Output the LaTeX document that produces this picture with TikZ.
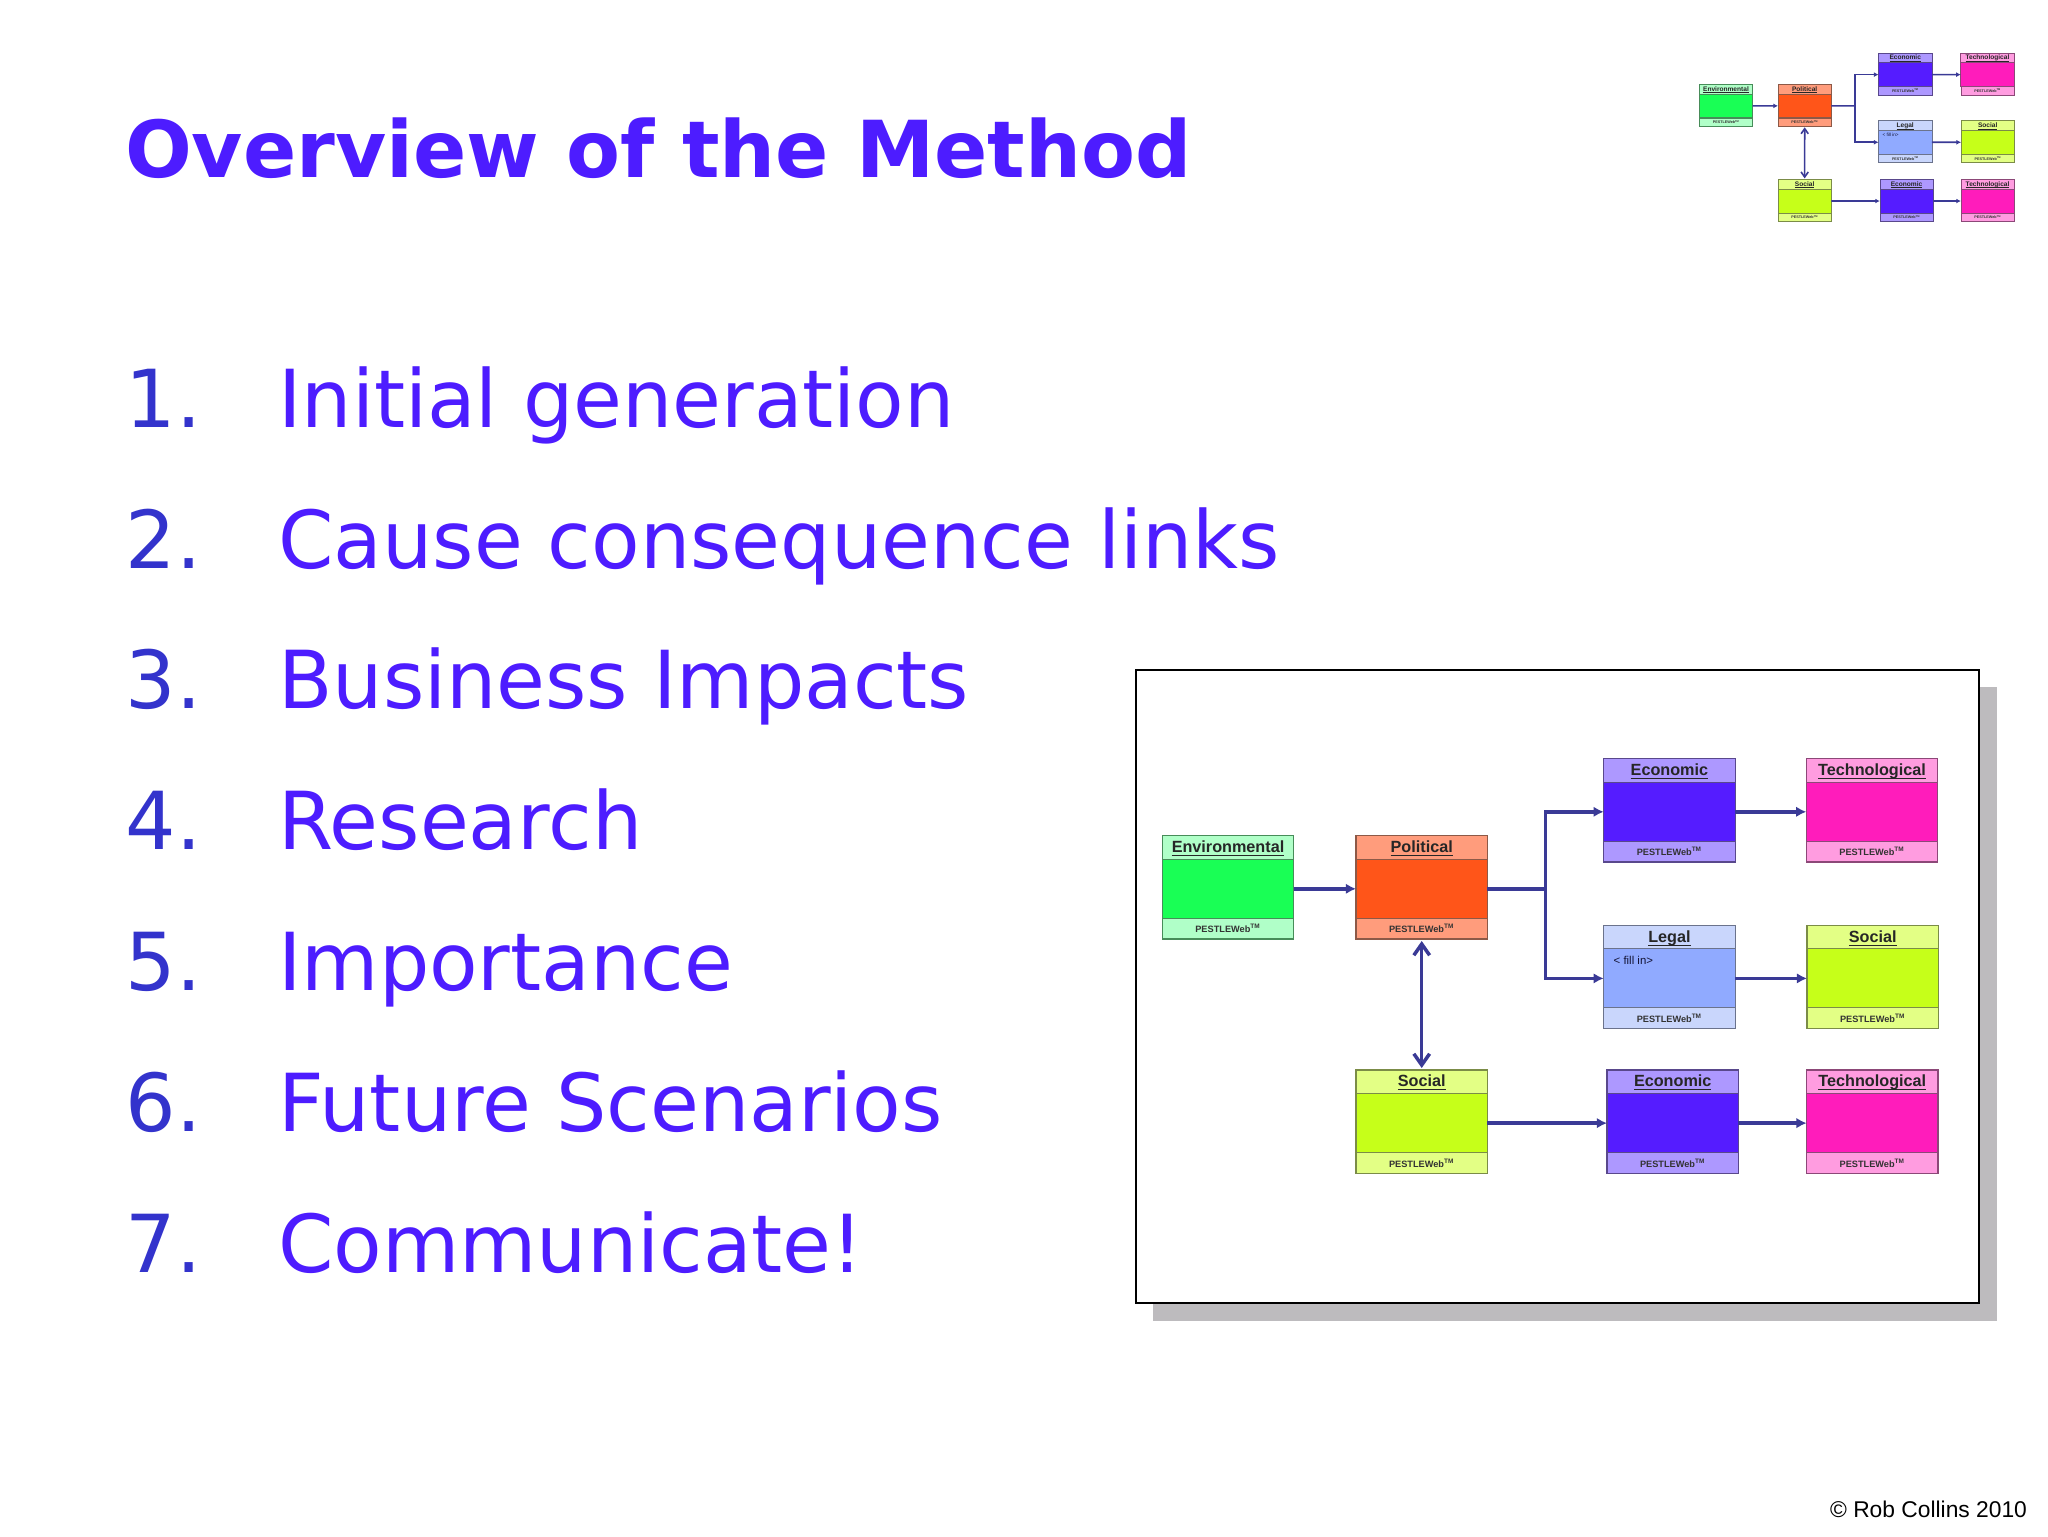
\documentclass[tikz,border=0pt]{standalone}
\usepackage{xcolor}
\usepackage{fontspec}
\setmainfont{Liberation Sans}
\newfontfamily\slideFont[FakeStretch=0.992]{DejaVu Sans}
\newfontfamily\headFont{DejaVu Sans}
\usetikzlibrary{positioning,arrows.meta,calc}
\definecolor{slideBlue}{HTML}{4D1CFF}
\definecolor{numBlue}{HTML}{3333CC}
\definecolor{linkBlue}{HTML}{3A3A96}
\definecolor{shadowGrey}{HTML}{BDBBBE}
\definecolor{envBody}{HTML}{19FF55}
\definecolor{envLight}{HTML}{B0FFC8}
\definecolor{polBody}{HTML}{FF5519}
\definecolor{polLight}{HTML}{FF9C7C}
\definecolor{ecoBody}{HTML}{551CFF}
\definecolor{ecoLight}{HTML}{AD98FF}
\definecolor{tecBody}{HTML}{FF1CBB}
\definecolor{tecLight}{HTML}{FF9CE0}
\definecolor{legBody}{HTML}{90AAFF}
\definecolor{legLight}{HTML}{C9D6FC}
\definecolor{socBody}{HTML}{C6FF19}
\definecolor{socLight}{HTML}{E3FF85}
\tikzset{
  slideTitle/.style={
    anchor=base west,
    inner sep=0pt,
    text=slideBlue,
    font=\headFont\bfseries\fontsize{39.3}{44}\selectfont
  },
  listNum/.style={
    anchor=base west,
    inner sep=0pt,
    text=numBlue,
    font=\slideFont\fontsize{40}{44}\selectfont
  },
  listItem/.style={
    inner sep=0pt,
    text=slideBlue,
    font=\slideFont\fontsize{40}{44}\selectfont
  },
  nextNum/.style={
    below=70.4pt of #1.base west,
    anchor=base west
  },
  itemOf/.style={
    right=76.2pt of #1.base west,
    anchor=base west
  },
  boxPart/.style={
    rectangle,
    inner sep=0pt,
    outer sep=0pt,
    line width=\boxRule,
    minimum width=65.7pt,
    align=center
  },
  boxTitle/.style={
    boxPart,
    draw=#1Body!40!black!75,
    fill=#1Light,
    minimum height=11.8pt,
    text height=6.2pt,
    text depth=1.1pt,
    text=black!85,
    font=\bfseries\fontsize{8.1}{9}\selectfont
  },
  boxBody/.style={
    boxPart,
    draw=#1Body!40!black!75,
    fill=#1Body,
    minimum height=29.5pt
  },
  boxFoot/.style={
    boxPart,
    draw=#1Body!40!black!75,
    fill=#1Light,
    minimum height=10.35pt,
    text=black!80,
    font=\bfseries\fontsize{4.6}{5}\selectfont
  },
  fillNote/.style={
    inner sep=0pt,
    anchor=north west,
    text=black!65!linkBlue,
    font=\fontsize{5.7}{6}\selectfont
  },
  linkLine/.style={
    draw=linkBlue,
    line width=\linkRule,
    -{Latex[length=0pt 2.9,width=0pt 3]}
  },
  bothLine/.style={
    draw=linkBlue,
    line width=\linkRule,
    {Straight Barb[length=0pt 3.2,width=0pt 4.5]}-{Straight Barb[length=0pt 3.2,width=0pt 4.5]},
    shorten <=\linkGap,
    shorten >=\linkGap
  }
}
\newcommand{\boxRule}{0.55pt}
\newcommand{\linkRule}{1.75pt}
\newcommand{\linkGap}{1pt}
\newcommand{\pestleBox}[4]{
  \node[boxTitle=#4, anchor=north west] (#1T) at (#2) {\underline{\smash{#3}}};
  \node[boxBody=#4, below=0pt of #1T] (#1B) {};
  \node[boxFoot=#4, below=0pt of #1B] (#1F) {PESTLEWeb\textsuperscript{TM}};
}
\newcommand{\pestleWeb}[1]{
  \pestleBox{#1env}{1162.3,835.7}{Environmental}{env}
  \pestleBox{#1pol}{1356,835.7}{Political}{pol}
  \pestleBox{#1eco}{1603.7,758.7}{Economic}{eco}
  \pestleBox{#1tec}{1806.3,758.7}{Technological}{tec}
  \pestleBox{#1leg}{1603.7,925.3}{Legal}{leg}
  \pestleBox{#1soc}{1807,925.3}{Social}{soc}
  \pestleBox{#1sob}{1356,1070}{Social}{soc}
  \pestleBox{#1ecb}{1607,1070}{Economic}{eco}
  \pestleBox{#1teb}{1806.6,1070}{Technological}{tec}
  \node[fillNote, below right=3.6pt and 4.8pt of #1legB.north west, anchor=north west] (#1note) {< fill in>};
  \coordinate (#1fork) at ($(#1polB.east)+(29pt,0)$);

  \draw[linkLine] (#1envB) -- (#1polB);
  \draw[line width=\linkRule, draw=linkBlue] (#1polB.east) -- (#1fork);
  \draw[linkLine] (#1fork) |- (#1ecoB.west);
  \draw[linkLine] (#1fork) |- (#1legB.west);
  \draw[linkLine] (#1ecoB) -- (#1tecB);
  \draw[linkLine] (#1legB) -- (#1socB);
  \draw[bothLine] (#1polF) -- (#1sobT);
  \draw[linkLine] (#1sobB) -- (#1ecbB);
  \draw[linkLine] (#1ecbB) -- (#1tebB);
}
\begin{document}
\begin{tikzpicture}[x=0.5pt,y=-0.5pt]
  \useasboundingbox (0,0) rectangle (2048,1536);

  \node[slideTitle] (title) at (124.7,177.3) {Overview of the Method};

  \node[listNum] (num1) at (125.5,427.3) {1.};
  \node[listItem, itemOf=num1] (item1) {Initial generation};
  \node[listNum, nextNum=num1] (num2) {2.};
  \node[listItem, itemOf=num2] (item2) {Cause consequence links};
  \node[listNum, nextNum=num2] (num3) {3.};
  \node[listItem, itemOf=num3] (item3) {Business Impacts};
  \node[listNum, nextNum=num3] (num4) {4.};
  \node[listItem, itemOf=num4] (item4) {Research};
  \node[listNum, nextNum=num4] (num5) {5.};
  \node[listItem, itemOf=num5] (item5) {Importance};
  \node[listNum, nextNum=num5] (num6) {6.};
  \node[listItem, itemOf=num6] (item6) {Future Scenarios};
  \node[listNum, nextNum=num6] (num7) {7.};
  \node[listItem, itemOf=num7] (item7) {Communicate!};

  % framed picture with its shadow
  \fill[shadowGrey] (1153,687) rectangle (1996.7,1320.7);
  \draw[line width=1pt, draw=black, fill=white] (1135.7,670) rectangle (1979,1303);
  \pestleWeb{m}

  % small copy in the corner
  \begin{scope}[shift={(1227.4,-255)}, scale=0.406, every node/.append style={transform shape}]
    \renewcommand{\boxRule}{0.35pt}
    \renewcommand{\linkRule}{0.8pt}
    \renewcommand{\linkGap}{0.5pt}
    \pestleWeb{t}
  \end{scope}

  \node[inner sep=0pt, anchor=base east, font=\fontsize{11.4}{12}\selectfont] (copy) at (2027.3,1517.7) {© Rob Collins 2010};
\end{tikzpicture}
\end{document}
